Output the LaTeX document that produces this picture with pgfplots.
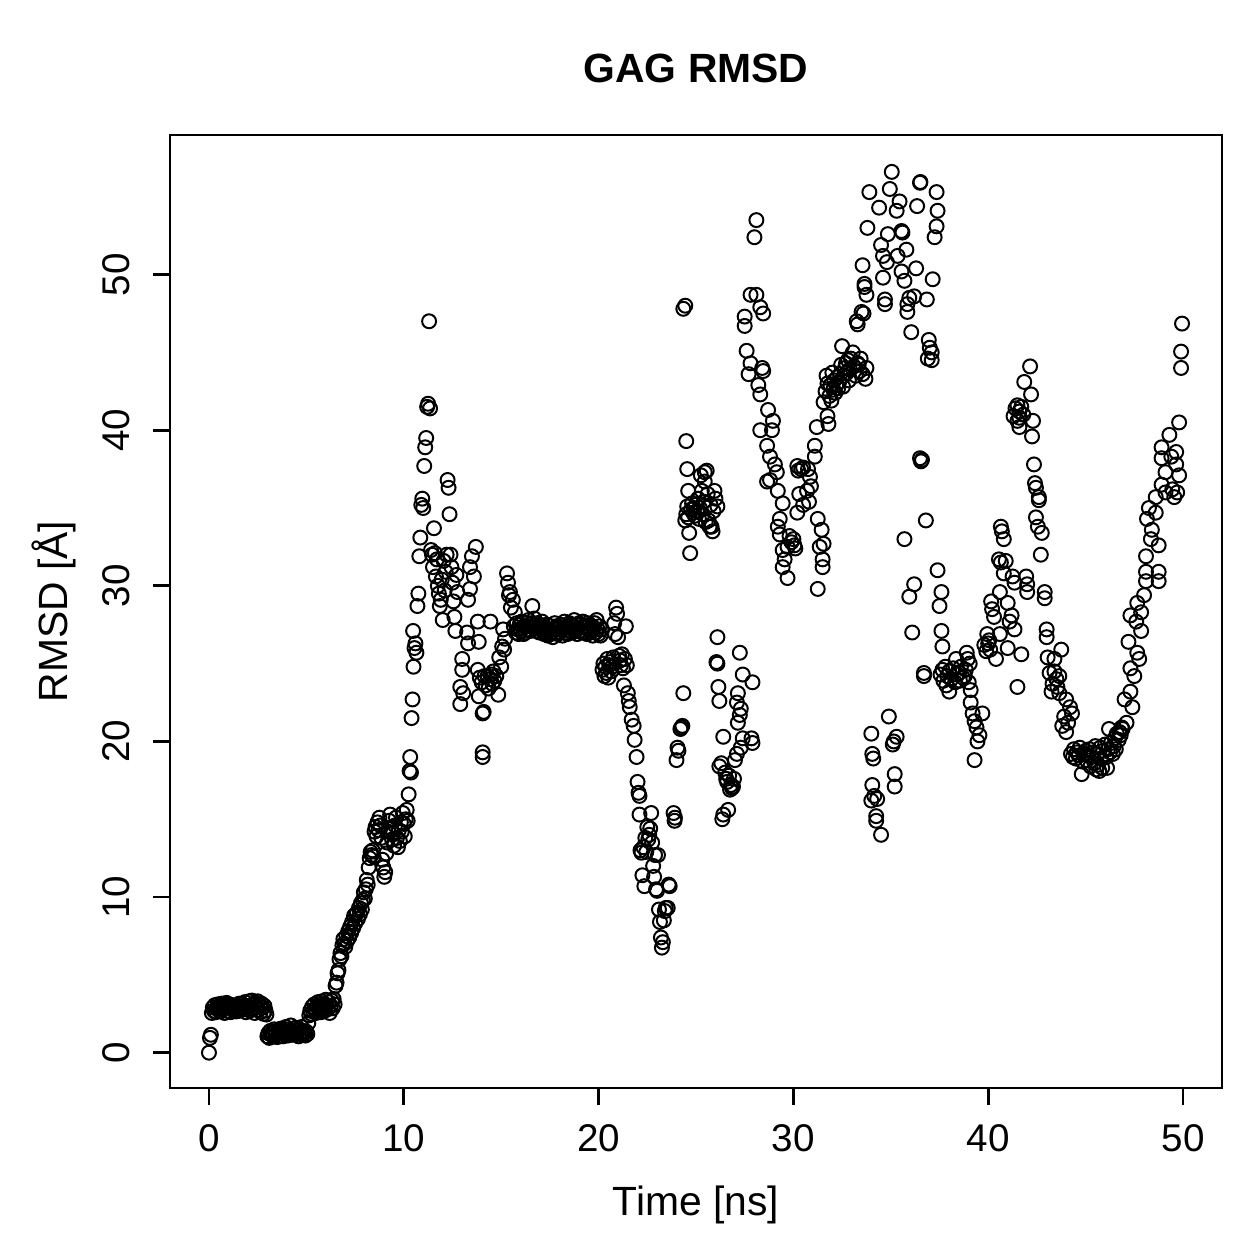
\documentclass[border=0pt]{standalone}
\usepackage{fontspec}
\setmainfont{Liberation Sans}
\usepackage{pgfplots}
\pgfplotsset{compat=1.18}

% RMSD of the GAG chain over the 50 ns trajectory (time in ns, RMSD in Angstrom)
\pgfplotstableread{
t r
0.00 0.00
0.05 0.95
0.10 1.15
0.15 2.55
0.20 2.90
0.25 2.70
0.30 3.05
0.35 2.60
0.40 2.85
0.45 3.10
0.50 2.75
0.55 2.95
0.60 2.65
0.65 3.15
0.70 2.80
0.75 3.00
0.80 2.55
0.85 2.90
0.90 3.20
0.95 2.70
1.00 2.95
1.05 3.10
1.10 2.60
1.15 2.85
1.20 3.05
1.25 2.75
1.30 2.95
1.40 2.65
1.45 3.00
1.50 2.80
1.55 3.15
1.60 2.70
1.65 2.95
1.70 3.10
1.80 2.85
1.85 3.25
1.90 2.60
1.95 3.00
2.00 2.90
2.05 3.30
2.10 2.70
2.15 3.05
2.20 3.35
2.25 2.80
2.30 3.10
2.35 2.55
2.40 3.20
2.45 2.95
2.50 3.30
2.55 2.75
2.60 3.05
2.65 2.60
2.70 3.15
2.75 2.90
2.80 2.50
2.85 3.00
2.90 2.70
2.95 2.45
3.00 1.05
3.05 1.25
3.10 0.95
3.15 1.40
3.20 1.15
3.25 1.30
3.30 1.05
3.35 1.50
3.40 1.20
3.45 1.35
3.50 1.00
3.55 1.45
3.60 1.25
3.65 1.10
3.70 1.55
3.75 1.30
3.80 1.05
3.85 1.40
3.90 1.20
3.95 1.65
4.00 1.35
4.05 1.10
4.10 1.50
4.15 1.25
4.20 1.75
4.25 1.40
4.30 1.15
4.35 1.55
4.40 1.30
4.45 1.60
4.50 1.20
4.55 1.45
4.60 1.05
4.65 1.50
4.70 1.30
4.75 1.65
4.80 1.15
4.85 1.40
4.90 1.25
4.95 1.10
5.00 1.35
5.05 1.20
5.10 1.90
5.15 2.40
5.20 2.70
5.25 2.50
5.30 2.95
5.35 2.65
5.40 3.10
5.45 2.80
5.50 2.55
5.55 3.00
5.60 3.25
5.65 2.75
5.70 3.05
5.75 2.60
5.80 3.30
5.85 2.90
5.90 3.15
5.95 2.70
6.00 3.40
6.05 3.05
6.10 2.80
6.15 3.25
6.20 2.55
6.25 3.00
6.30 3.35
6.35 2.85
6.40 3.45
6.45 3.10
6.50 4.30
6.55 4.50
6.60 5.10
6.65 5.30
6.70 6.00
6.75 6.40
6.80 6.20
6.85 6.90
6.90 7.30
6.95 7.00
7.00 6.80
7.05 7.50
7.10 7.20
7.15 7.80
7.20 7.40
7.25 8.10
7.30 7.70
7.35 8.40
7.40 8.00
7.45 8.80
7.50 8.30
7.55 8.90
7.60 9.00
7.65 8.60
7.70 9.30
7.75 8.90
7.80 9.60
7.85 9.20
7.90 9.80
7.95 10.30
8.00 9.90
8.05 10.50
8.10 11.10
8.15 10.80
8.20 11.90
8.25 12.50
8.30 12.90
8.35 12.70
8.40 13.00
8.45 12.60
8.50 14.20
8.55 14.50
8.60 13.90
8.65 14.80
8.70 14.30
8.75 15.10
8.80 14.60
8.85 13.80
8.90 12.40
8.95 11.90
9.00 11.30
9.05 11.60
9.10 12.80
9.15 13.50
9.20 14.20
9.25 14.90
9.30 15.30
9.35 14.40
9.40 13.70
9.45 14.10
9.50 13.30
9.55 14.60
9.60 15.10
9.65 13.80
9.70 13.20
9.75 14.30
9.80 13.60
9.85 14.80
9.90 14.20
9.95 15.40
10.00 14.70
10.05 13.90
10.10 15.00
10.15 15.60
10.20 14.90
10.25 16.60
10.30 18.10
10.33 19.00
10.37 18.00
10.40 21.50
10.45 22.70
10.48 27.10
10.50 24.80
10.55 26.00
10.60 26.30
10.65 25.70
10.70 28.70
10.75 29.50
10.80 31.90
10.85 33.10
10.90 35.20
10.95 35.60
11.00 35.00
11.05 37.70
11.10 38.90
11.15 39.50
11.20 41.50
11.25 41.70
11.30 47.00
11.35 41.40
11.40 32.30
11.45 32.00
11.50 31.20
11.55 33.70
11.60 32.10
11.65 30.60
11.70 31.70
11.75 30.00
11.80 29.50
11.85 28.70
11.90 29.10
11.95 30.40
12.00 27.80
12.05 31.60
12.10 29.70
12.15 30.90
12.20 32.00
12.25 36.80
12.30 36.30
12.35 34.60
12.40 32.00
12.45 31.20
12.50 30.20
12.55 29.00
12.60 28.00
12.65 27.10
12.70 30.70
12.75 29.60
12.90 23.50
12.90 22.40
13.00 25.30
13.00 24.60
13.05 23.10
13.25 27.00
13.30 26.30
13.30 29.10
13.40 29.80
13.40 31.20
13.50 31.90
13.70 32.50
13.60 30.60
13.80 27.70
13.85 26.40
13.80 24.60
13.85 22.90
13.90 24.10
14.00 23.80
14.05 21.80
14.10 21.90
14.05 19.30
14.05 19.00
14.15 24.20
14.20 23.60
14.30 24.20
14.35 23.40
14.45 27.70
14.45 24.00
14.50 24.30
14.55 23.70
14.60 24.50
14.65 23.90
14.75 24.20
14.85 23.00
14.90 25.40
15.00 24.80
15.05 26.10
15.10 27.20
15.15 25.90
15.20 26.60
15.30 30.80
15.35 30.20
15.40 29.40
15.45 29.60
15.50 28.60
15.60 29.10
15.65 27.40
15.70 28.30
15.75 27.00
15.80 27.60
15.85 27.20
15.90 26.90
15.95 27.50
16.00 27.10
16.05 27.70
16.10 27.30
16.15 26.90
16.20 27.40
16.25 27.00
16.30 27.60
16.35 27.20
16.40 27.80
16.45 27.40
16.50 27.10
16.55 27.60
16.60 28.70
16.65 27.30
16.70 27.90
16.75 27.50
16.80 27.10
16.85 27.60
16.90 27.30
16.95 27.00
17.00 27.50
17.05 27.20
17.10 27.70
17.15 27.40
17.20 26.90
17.25 27.30
17.30 27.00
17.35 27.50
17.40 26.80
17.45 27.20
17.50 26.90
17.55 27.40
17.60 27.00
17.65 26.70
17.70 27.20
17.75 27.60
17.80 27.00
17.85 27.40
17.90 26.90
17.95 27.30
18.00 27.00
18.05 27.50
18.10 27.20
18.15 26.80
18.20 27.30
18.25 27.70
18.30 27.00
18.35 27.40
18.40 26.90
18.45 27.30
18.50 27.60
18.55 27.10
18.60 27.50
18.65 27.00
18.70 27.40
18.75 27.80
18.80 27.10
18.85 27.50
18.90 26.90
18.95 27.30
19.00 27.60
19.05 27.10
19.10 27.50
19.15 27.00
19.20 27.70
19.25 27.30
19.30 27.00
19.35 27.40
19.40 26.90
19.45 27.60
19.50 27.20
19.55 27.50
19.60 27.00
19.65 27.40
19.70 26.80
19.75 27.30
19.80 27.60
19.85 27.00
19.90 27.80
19.95 27.20
20.00 26.90
20.05 27.40
20.10 26.80
20.15 27.20
20.20 24.60
20.25 25.00
20.30 24.20
20.35 24.80
20.40 24.40
20.45 25.30
20.50 24.10
20.55 24.90
20.60 25.10
20.65 24.50
20.70 24.80
20.75 25.40
20.80 27.60
20.85 26.90
20.90 28.60
20.95 28.20
21.00 26.70
21.05 25.50
21.10 25.20
21.15 24.90
21.20 25.60
21.25 24.70
21.30 23.60
21.35 25.30
21.40 27.40
21.45 24.90
21.50 23.10
21.55 22.60
21.60 22.20
21.70 21.40
21.80 21.00
21.85 20.10
21.95 19.00
22.00 17.40
22.05 16.70
22.10 16.50
22.10 15.30
22.15 13.00
22.20 12.85
22.25 11.40
22.30 13.20
22.35 10.70
22.40 13.80
22.45 12.90
22.50 14.50
22.55 13.70
22.60 14.00
22.65 14.40
22.70 15.40
22.75 13.50
22.80 12.00
22.85 11.30
22.90 12.70
22.95 10.50
23.00 10.40
23.05 12.70
23.10 9.20
23.15 8.40
23.20 7.40
23.25 6.75
23.30 7.10
23.35 8.50
23.40 9.10
23.45 9.30
23.55 9.30
23.60 10.80
23.65 10.70
23.85 15.40
23.90 14.90
23.92 15.10
24.00 18.80
24.05 19.60
24.10 19.40
24.20 20.80
24.25 20.90
24.30 21.00
24.35 23.10
24.35 47.80
24.45 48.00
24.50 39.30
24.55 37.50
24.60 36.10
24.45 34.20
24.50 34.60
24.55 35.10
24.60 34.40
24.65 33.40
24.70 32.10
24.75 34.90
24.80 35.30
24.85 34.70
24.90 35.00
24.95 34.50
25.00 35.20
25.05 34.80
25.10 35.60
25.15 34.30
25.20 35.00
25.25 37.10
25.30 36.10
25.35 34.60
25.40 35.40
25.45 37.30
25.45 36.70
25.50 34.10
25.55 37.40
25.60 35.90
25.65 34.20
25.70 33.80
25.75 35.20
25.80 33.80
25.85 33.50
25.90 34.80
25.95 36.10
26.00 35.60
26.10 35.10
26.10 26.70
26.05 25.10
26.10 25.00
26.15 23.50
26.20 22.60
26.40 20.30
26.20 18.40
26.30 18.60
26.40 15.30
26.35 15.00
26.50 18.00
26.55 17.60
26.60 17.40
26.65 15.60
26.70 17.80
26.75 16.90
26.80 17.20
26.85 17.00
26.90 17.10
26.95 17.60
27.00 18.80
27.10 19.20
27.15 21.20
27.10 22.50
27.15 23.10
27.25 21.70
27.25 25.70
27.30 22.10
27.40 24.30
27.40 20.20
27.30 19.60
27.90 23.80
27.85 20.20
27.90 19.90
27.50 47.30
27.50 46.70
27.60 45.10
27.70 43.60
27.80 44.30
27.80 48.70
28.00 52.40
28.10 53.50
28.10 48.70
28.20 42.90
28.30 47.90
28.30 42.30
28.30 40.00
28.40 44.00
28.45 47.50
28.45 43.80
28.65 39.00
28.65 36.70
28.70 41.30
28.80 38.30
28.80 36.80
28.90 40.00
28.95 40.60
29.05 37.80
29.15 37.30
29.20 36.10
29.20 33.80
29.30 34.30
29.30 33.30
29.45 35.30
29.45 32.30
29.45 31.20
29.55 31.70
29.70 32.50
29.70 30.50
29.80 33.20
29.90 32.80
30.00 33.00
30.05 32.60
30.10 32.40
30.20 34.70
30.20 37.70
30.30 35.90
30.25 37.40
30.40 37.50
30.50 35.20
30.50 37.60
30.75 37.50
30.85 37.00
30.90 36.40
30.70 36.10
30.80 35.40
31.10 38.30
31.10 39.00
31.20 40.20
31.25 34.30
31.35 32.50
31.45 33.60
31.50 31.70
31.50 31.20
31.55 32.70
31.25 29.80
31.75 40.90
31.80 40.40
31.70 43.50
32.00 43.70
31.55 41.80
31.65 42.50
31.75 43.00
31.85 42.20
31.90 42.90
31.95 41.90
32.05 42.60
32.10 43.20
32.15 42.40
32.20 42.90
32.25 43.40
32.30 42.70
32.35 43.10
32.40 43.60
32.45 44.20
32.50 45.40
32.55 42.80
32.60 43.50
32.65 44.00
32.70 44.30
32.75 43.70
32.80 44.50
32.85 43.20
32.90 43.90
32.95 44.60
33.05 45.00
33.10 44.10
33.20 43.50
33.25 47.00
33.30 46.80
33.30 44.30
33.35 44.20
33.40 43.80
33.45 44.60
33.50 47.60
33.55 43.60
33.55 50.60
33.60 47.50
33.65 49.20
33.65 49.40
33.70 43.30
33.75 44.00
33.75 48.70
33.80 53.00
33.90 55.30
34.40 54.30
34.95 55.50
35.05 56.60
34.85 52.60
34.50 51.90
34.60 51.20
34.80 50.80
34.60 49.80
34.70 48.40
34.70 48.10
35.30 54.10
35.45 54.70
35.35 51.20
35.55 52.80
35.60 52.70
35.80 51.60
35.55 50.20
35.70 49.60
35.95 48.50
35.85 48.10
35.85 47.60
36.05 46.30
36.20 48.60
36.30 50.40
36.35 54.40
36.50 55.90
36.52 55.95
36.85 48.40
37.00 45.30
37.10 45.00
37.10 44.50
36.90 44.60
36.95 45.80
37.15 49.70
37.25 52.40
37.35 53.10
37.40 54.10
37.35 55.30
34.90 21.60
34.00 20.50
35.30 20.30
35.15 20.00
35.10 19.80
34.05 19.20
34.10 18.90
35.20 17.90
35.20 17.10
34.05 17.20
34.15 16.50
34.00 16.20
34.30 16.30
34.25 15.20
34.25 14.90
34.50 14.00
36.50 38.20
36.55 38.00
36.60 38.10
36.80 34.20
35.70 33.00
37.40 31.00
36.20 30.10
35.95 29.30
37.60 29.60
37.50 28.70
36.10 27.00
37.60 27.10
37.65 26.10
36.70 24.40
36.70 24.20
37.55 24.30
37.65 24.60
37.70 23.90
37.80 24.80
37.85 23.60
37.90 24.20
38.00 23.20
38.00 24.50
38.10 24.00
38.20 24.70
38.30 23.80
38.35 25.30
38.40 24.30
38.50 24.40
38.55 23.90
38.60 24.80
38.70 24.10
38.80 24.20
38.85 24.60
38.90 25.70
38.95 25.30
39.00 23.80
39.05 25.00
39.10 23.30
39.10 22.50
39.20 21.80
39.30 21.30
39.40 20.90
39.45 20.00
39.55 20.40
39.30 18.80
39.70 21.80
39.80 26.20
39.90 25.80
39.95 26.90
40.00 26.30
40.05 26.50
40.10 25.90
40.15 29.00
40.20 28.50
40.30 28.00
40.40 25.30
40.60 29.60
40.60 26.90
40.65 31.50
40.80 30.80
40.65 33.80
40.70 33.50
40.80 33.00
40.55 31.70
40.90 31.60
41.00 28.90
41.00 26.00
41.10 27.70
41.20 28.10
41.25 30.60
41.35 30.20
41.35 27.20
41.50 23.50
41.70 25.60
41.95 30.60
42.00 30.10
42.00 29.60
42.90 29.60
42.90 29.20
41.85 43.10
42.15 44.10
42.20 42.30
41.40 41.40
41.50 41.60
41.60 41.20
41.70 41.50
41.30 40.90
41.60 40.80
41.80 41.00
41.50 40.60
41.60 40.20
42.30 40.60
42.25 39.60
42.35 37.80
42.40 36.60
42.45 36.30
42.60 35.70
42.60 35.50
42.45 34.40
42.55 33.80
42.75 33.40
42.70 32.00
43.00 27.20
43.00 26.70
43.75 25.90
43.05 25.40
43.40 25.30
43.15 24.40
43.65 24.20
43.30 23.70
43.25 23.20
43.65 23.10
43.50 24.00
43.40 24.50
43.55 23.50
44.00 22.70
44.20 22.20
44.30 21.80
43.90 21.60
43.80 21.00
44.00 20.60
44.10 21.20
44.25 19.20
44.35 19.00
44.40 19.50
44.50 18.90
44.55 19.30
44.65 19.10
44.70 19.60
44.80 17.90
44.85 18.70
44.90 19.20
45.00 19.40
45.05 18.80
45.10 19.10
45.20 19.50
45.25 18.40
45.30 19.00
45.40 19.30
45.45 18.60
45.50 19.70
45.55 18.20
45.60 19.20
45.65 18.50
45.70 18.10
45.75 19.60
45.80 18.90
45.85 18.30
45.90 19.40
46.00 19.80
46.05 19.00
46.10 18.30
46.15 19.50
46.20 20.80
46.25 19.30
46.30 19.90
46.40 19.20
46.45 19.70
46.50 20.20
46.55 19.50
46.60 20.50
46.70 20.10
46.75 20.60
46.80 20.40
46.85 20.90
46.90 20.80
47.00 22.70
47.10 21.20
47.30 23.20
47.40 22.20
47.50 24.20
47.30 24.70
47.75 25.30
47.65 25.70
47.20 26.40
47.85 27.10
47.60 27.70
47.30 28.10
47.85 28.30
47.65 28.90
48.00 29.40
48.10 30.30
48.75 30.30
48.10 30.90
48.75 30.90
48.10 31.90
48.35 33.00
48.75 32.60
48.40 33.60
48.15 34.30
48.60 34.70
48.25 35.00
48.60 35.70
48.90 36.50
49.10 36.00
49.45 36.20
49.70 36.00
49.55 35.70
49.10 37.30
49.80 37.10
49.65 37.80
48.90 38.20
49.40 38.30
49.65 38.60
48.90 38.90
49.30 39.70
49.80 40.50
49.90 44.00
49.90 45.05
49.95 46.85
}\rmsd

\begin{document}
\begin{tikzpicture}
% fixed 7in x 7in canvas
\path[use as bounding box] (0,0) rectangle (6.9944in,6.9944in);
\begin{axis}[
  at={(0.9444in,0.95in)}, anchor=south west,
  scale only axis, width=5.8444in, height=5.2944in,
  xmin=-2, xmax=52, ymin=-2.27, ymax=58.97,
  xtick={0,10,...,50}, ytick={0,10,...,50},
  xtick pos=bottom, ytick pos=left,
  tick align=outside, major tick length=0.0944in,
  axis line style={line width=1.1pt},
  every tick/.style={black, line width=1.1pt},
  /pgf/number format/assume math mode=true,
  ticklabel style={font=\fontsize{15.5}{18}\selectfont, inner sep=0pt},
  xticklabel style={anchor=base, yshift=-0.2556in},
  yticklabel style={xshift=-0.1278in, rotate=90, anchor=base},
  title={\textbf{GAG RMSD}},
  title style={at={(axis description cs:0.5,1.0389)}, anchor=base,
    font=\fontsize{16.4}{19.7}\selectfont},
  xlabel={Time [ns]},
  xlabel style={at={(axis description cs:0.5,-0.1333)}, anchor=base,
    font=\fontsize{16.4}{19.7}\selectfont},
  ylabel={RMSD [Å]},
  ylabel style={at={(axis description cs:-0.0979,0.5)}, anchor=base,
    font=\fontsize{16.4}{19.7}\selectfont},
]
\addplot[only marks, mark=o, mark size=2.8pt, mark options={line width=0.8pt, black}]
  table[x=t, y=r] {\rmsd};
\end{axis}
\end{tikzpicture}
\end{document}
